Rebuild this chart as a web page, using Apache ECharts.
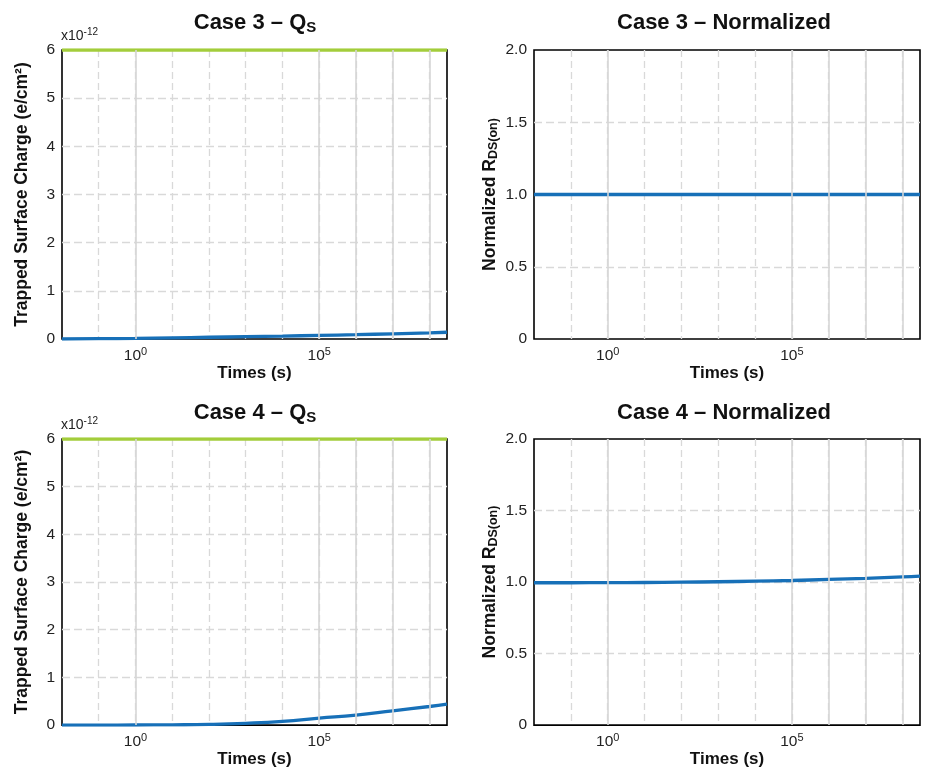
<!DOCTYPE html>
<html>
<head>
<meta charset="utf-8">
<script src="https://cdn.jsdelivr.net/npm/echarts@6/dist/echarts.min.js"></script>
<style>
  html, body { margin: 0; padding: 0; background: #fff; }
  #main { width: 927px; height: 769px; }
</style>
</head>
<body>
<div id="main"></div>
<script>
// time samples (s), log scale
var times = [0.01, 0.1, 1, 10, 100, 1e3, 1e4, 1e5, 1e6, 1e7, 1e8, 3e8];
// trapped surface charge, units of 1e-12 e/cm2
var case3Qs = [0, 0.006, 0.014, 0.025, 0.036, 0.048, 0.06, 0.075, 0.09, 0.108, 0.128, 0.14];
var case4Qs = [0, 0, 0.002, 0.006, 0.015, 0.038, 0.078, 0.145, 0.21, 0.30, 0.39, 0.44];
// normalized Rds(on)
var case3Norm = [1, 1, 1, 1, 1, 1, 1, 1, 1, 1, 1, 1];
var case4Norm = [0.995, 0.995, 0.996, 0.997, 0.999, 1.002, 1.006, 1.011, 1.018, 1.026, 1.036, 1.042];
// threshold line for Qs plots
var qsLimit = [6, 6];
var limitTimes = [0.01, 3e8];
// decades that get a solid grid line
var solidDecades = [1, 1e5, 1e6, 1e7, 1e8];
var labelDecades = [1, 1e5];

var blue = '#1770b8';
var green = '#a3cd3b';
var font = 'Liberation Sans';

function pairs(xs, ys) {
    return xs.map(function (x, i) { return [x, ys[i]]; });
}

var supRich = {
    b: { fontSize: 15.5, fontFamily: font, color: '#222' },
    sup: { fontSize: 11, fontFamily: font, color: '#222', padding: [0, 0, 9, 0] }
};

function xAxisOpt(idx) {
    return {
        type: 'log',
        gridIndex: idx,
        logBase: 10,
        min: 0.01,
        max: 3e8,
        interval: 1,
        name: 'Times (s)',
        nameLocation: 'middle',
        nameGap: 23,
        nameTextStyle: { fontFamily: font, fontWeight: 'bold', fontSize: 17, color: '#111' },
        axisLine: { show: false },
        axisTick: { show: false },
        axisLabel: {
            margin: 7,
            formatter: function (v) {
                if (labelDecades.indexOf(v) < 0) return '';
                return '{b|10}{sup|' + Math.round(Math.log10(v)) + '}';
            },
            rich: supRich
        },
        splitLine: {
            show: true, showMinLine: false, showMaxLine: false,
            lineStyle: { color: '#d9d9d9', type: [7, 4], width: 1.3 }
        }
    };
}

function yAxisOpt(idx, isQs) {
    var o = {
        type: 'value',
        gridIndex: idx,
        min: 0,
        max: isQs ? 6 : 2,
        interval: isQs ? 1 : 0.5,
        nameLocation: 'middle',
        nameRotate: 90,
        axisLine: { show: false },
        axisTick: { show: false },
        axisLabel: {
            fontFamily: font, fontSize: 15.5, color: '#222', margin: 7,
            formatter: function (v) {
                if (isQs || v === 0) return String(v);
                return v.toFixed(1);
            }
        },
        splitLine: {
            show: true, showMinLine: false, showMaxLine: false,
            lineStyle: { color: '#d9d9d9', type: [8, 4], width: 1.3 }
        }
    };
    if (isQs) {
        o.name = 'Trapped Surface Charge (e/cm²)';
        o.nameGap = 31;
        o.nameTextStyle = { fontFamily: font, fontWeight: 'bold', fontSize: 17.5, color: '#111' };
    } else {
        o.name = '{n|Normalized R}{s|DS(on)}';
        o.nameGap = 34;
        o.nameTextStyle = {
            rich: {
                n: { fontFamily: font, fontWeight: 'bold', fontSize: 17.5, color: '#111' },
                s: { fontFamily: font, fontWeight: 'bold', fontSize: 12.5, color: '#111', padding: [7, 0, 0, 0] }
            }
        };
    }
    return o;
}

function gridLines(idx) {
    return {
        type: 'line',
        xAxisIndex: idx,
        yAxisIndex: idx,
        data: [],
        z: 1,
        silent: true,
        markLine: {
            silent: true,
            symbol: 'none',
            label: { show: false },
            lineStyle: { color: '#d6d6d6', type: 'solid', width: 1.6 },
            data: solidDecades.map(function (d) { return { xAxis: d }; })
        }
    };
}

function curve(idx, ys) {
    return {
        type: 'line',
        xAxisIndex: idx,
        yAxisIndex: idx,
        data: pairs(times, ys),
        smooth: true,
        showSymbol: false,
        z: 3,
        lineStyle: { color: blue, width: 3.3 },
        itemStyle: { color: blue }
    };
}

function limit(idx) {
    return {
        type: 'line',
        xAxisIndex: idx,
        yAxisIndex: idx,
        data: pairs(limitTimes, qsLimit),
        showSymbol: false,
        z: 4,
        lineStyle: { color: green, width: 3.5 },
        itemStyle: { color: green }
    };
}

var titleStyle = {
    fontFamily: font, fontWeight: 'bold', fontSize: 22, color: '#111',
    rich: {
        t: { fontFamily: font, fontWeight: 'bold', fontSize: 22, color: '#111' },
        s: { fontFamily: font, fontWeight: 'bold', fontSize: 15, color: '#111', padding: [9, 0, 0, 0] }
    }
};
var expStyle = {
    fontWeight: 'normal',
    rich: {
        a: { fontFamily: font, fontWeight: 'normal', fontSize: 14, color: '#222' },
        e: { fontFamily: font, fontWeight: 'normal', fontSize: 10, color: '#222', padding: [0, 0, 8, 0] }
    }
};

var myChart = echarts.init(document.getElementById('main'));
myChart.setOption({
    animation: false,
    backgroundColor: '#fff',
    title: [
        { text: '{t|Case 3 – Q}{s|S}', left: 250, top: 6, textAlign: 'center', textStyle: titleStyle },
        { text: 'Case 3 – Normalized', left: 719, top: 7, textAlign: 'center', textStyle: titleStyle },
        { text: '{t|Case 4 – Q}{s|S}', left: 250, top: 396, textAlign: 'center', textStyle: titleStyle },
        { text: 'Case 4 – Normalized', left: 719, top: 397, textAlign: 'center', textStyle: titleStyle },
        { text: '{a|x10}{e|-12}', left: 61, top: 27, padding: 0, textStyle: expStyle },
        { text: '{a|x10}{e|-12}', left: 61, top: 416, padding: 0, textStyle: expStyle }
    ],
    grid: [
        { left: 62, top: 50, width: 385, height: 289, show: true, borderColor: '#000', borderWidth: 1.6, borderType: 'solid' },
        { left: 534, top: 50, width: 386, height: 289, show: true, borderColor: '#000', borderWidth: 1.6, borderType: 'solid' },
        { left: 62, top: 439, width: 385, height: 289, show: true, borderColor: '#000', borderWidth: 1.6, borderType: 'solid' },
        { left: 534, top: 439, width: 386, height: 289, show: true, borderColor: '#000', borderWidth: 1.6, borderType: 'solid' }
    ],
    xAxis: [xAxisOpt(0), xAxisOpt(1), xAxisOpt(2), xAxisOpt(3)],
    yAxis: [yAxisOpt(0, true), yAxisOpt(1, false), yAxisOpt(2, true), yAxisOpt(3, false)],
    series: [
        gridLines(0), gridLines(1), gridLines(2), gridLines(3),
        curve(0, case3Qs), limit(0),
        curve(1, case3Norm),
        curve(2, case4Qs), limit(2),
        curve(3, case4Norm)
    ]
});
</script>
</body>
</html>
